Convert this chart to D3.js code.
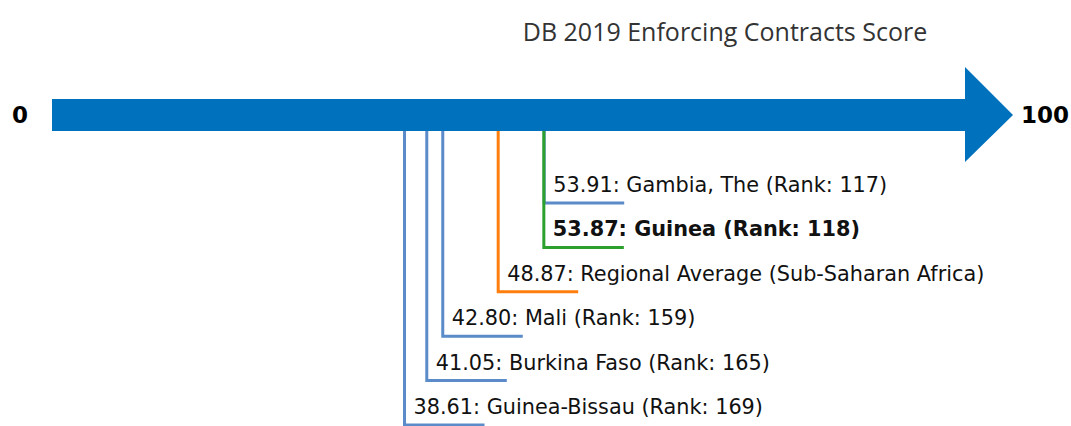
<!DOCTYPE html>
<head>
  <meta charset="utf-8">
  <script src="https://d3js.org/d3.v7.min.js"></script>
  <style type="text/css">
    body { margin:0; background:#fff; }
    .title { font-family: "Open Sans", sans-serif; font-size: 25px; fill: #333; }
    .end { font-family: "DejaVu Sans", sans-serif; font-size: 23px; font-weight: bold; fill: #000; }
    .lbl { font-family: "DejaVu Sans", sans-serif; font-size: 20.8px; fill: #111; }
    .stem { fill: none; stroke-width: 3; }
  </style>
</head>
<body>
<script>
// data
var economies = ["Gambia, The", "Guinea", "Regional Average (Sub-Saharan Africa)", "Mali", "Burkina Faso", "Guinea-Bissau"];
var scores = [53.91, 53.87, 48.87, 42.80, 41.05, 38.61];
var ranks = [117, 118, null, 159, 165, 169];
var kinds = ["peer", "focus", "region", "peer", "peer", "peer"];

var width = 1071, height = 426;
var colors = { peer: "#5b8bc8", focus: "#2ca02c", region: "#ff7f0e" };

var svg = d3.select("body").append("svg")
  .attr("width", width).attr("height", height);

var x = d3.scaleLinear().domain([0, 100]).range([52, 965]);
var barTop = 99, barBot = 131;

svg.append("text").attr("class", "title")
  .attr("x", 725).attr("y", 41).attr("text-anchor", "middle")
  .text("DB 2019 Enforcing Contracts Score");

// arrow
var mid = (barTop + barBot) / 2;
svg.append("path")
  .attr("fill", "#0071bc")
  .attr("d", "M" + x(0) + "," + barTop + "H" + x(100) + "V67L1013," + mid +
    "L" + x(100) + ",162V" + barBot + "H" + x(0) + "Z");

svg.append("text").attr("class", "end")
  .attr("x", 20).attr("y", mid + 8).attr("text-anchor", "middle").text("0");
svg.append("text").attr("class", "end")
  .attr("x", 1021).attr("y", mid + 8).text("100");

var rows = economies.map(function(d, i) {
  return { name: d, score: scores[i], rank: ranks[i], kind: kinds[i], level: i };
});
var levelY = d3.scaleLinear().domain([0, rows.length - 1]).range([203, 425]);

// draw focus last so it sits on top
var order = rows.slice().sort(function(a, b) { return (a.kind === "focus") - (b.kind === "focus"); });

var g = svg.selectAll(".row").data(order).enter().append("g");

g.append("path")
  .attr("class", "stem")
  .attr("stroke", function(d) { return colors[d.kind]; })
  .attr("d", function(d) {
    var sx = x(d.score), y = levelY(d.level);
    return "M" + sx + "," + barBot + "V" + y + "H" + (sx + 80);
  });

g.append("text")
  .attr("class", "lbl")
  .attr("x", function(d) { return x(d.score) + 9; })
  .attr("y", function(d) { return levelY(d.level) - 11; })
  .style("font-weight", function(d) { return d.kind === "focus" ? "bold" : null; })
  .text(function(d) {
    return d.score.toFixed(2) + ": " + d.name + (d.rank ? " (Rank: " + d.rank + ")" : "");
  });
</script>
</body>
